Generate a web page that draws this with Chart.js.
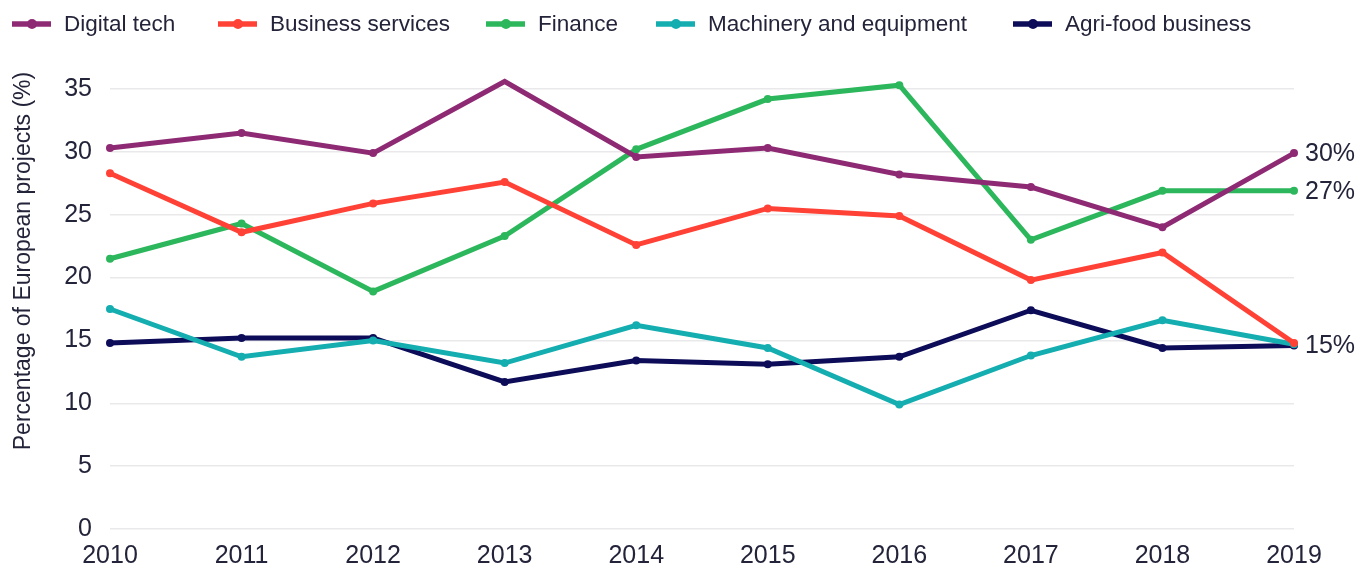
<!DOCTYPE html>
<html><head><meta charset="utf-8">
<script src="https://cdn.jsdelivr.net/npm/chart.js@4"></script>
<style>html,body{margin:0;padding:0;background:#fff;}#wrap{width:1355px;height:575px;}</style>
</head><body><div id="wrap"><canvas id="c" width="1355" height="575"></canvas></div>
<script>
const years = ['2010','2011','2012','2013','2014','2015','2016','2017','2018','2019'];
const digitalTech = [30.3,31.5,29.9,35.6,29.6,30.3,28.2,27.2,24.0,29.9];
const businessServices = [28.3,23.6,25.9,27.6,22.6,25.5,24.9,19.8,22.0,14.8];
const finance = [21.5,24.3,18.9,23.3,30.2,34.2,35.3,23.0,26.9,26.9];
const machinery = [17.5,13.7,15.0,13.2,16.2,14.4,9.9,13.8,16.6,14.7];
const agriFood = [14.8,15.2,15.2,11.7,13.4,13.1,13.7,17.4,14.4,14.6];
const seriesNames = ['Digital tech','Business services','Finance','Machinery and equipment','Agri-food business'];
const endLabels = ['30%','','27%','','15%'];
const yTicks = [0,5,10,15,20,25,30,35];
const yTitle = 'Percentage of European projects (%)';

const colors = ['#8E2A73','#FF4136','#2DB75C','#14ADB0','#0C0C58'];
const textColor = '#23233a';
const FONT = '"Liberation Sans", Arial, sans-serif';
const allData = [digitalTech,businessServices,finance,machinery,agriFood];

const datasets = allData.map((d,i)=>({
  label: seriesNames[i], data: d, borderColor: colors[i], backgroundColor: colors[i],
  borderWidth: 5, pointRadius: 4, pointHoverRadius: 4, pointBorderWidth: 0,
  tension: 0, clip: false, endLabel: endLabels[i]
}));
const legendX = [12, 218, 486, 656, 1013];

const customPlugin = {
  id: 'custom',
  afterDatasetsDraw(chart){
    const ctx = chart.ctx;
    ctx.save();
    // end labels
    ctx.font = '25px ' + FONT;
    ctx.fillStyle = textColor;
    ctx.textBaseline = 'middle';
    ctx.textAlign = 'left';
    chart.data.datasets.forEach((ds,i)=>{
      if(!ds.endLabel) return;
      const meta = chart.getDatasetMeta(i);
      const pt = meta.data[meta.data.length-1];
      ctx.fillText(ds.endLabel, pt.x + 11, pt.y + 1);
    });
    // legend
    ctx.font = '22.5px ' + FONT;
    chart.data.datasets.forEach((ds,i)=>{
      const x = legendX[i], y = 24;
      ctx.strokeStyle = colors[i]; ctx.lineWidth = 5.5;
      ctx.beginPath(); ctx.moveTo(x, y); ctx.lineTo(x+39, y); ctx.stroke();
      ctx.fillStyle = colors[i];
      ctx.beginPath(); ctx.arc(x+20, y, 5, 0, Math.PI*2); ctx.fill();
      ctx.fillStyle = textColor;
      ctx.fillText(ds.label, x+52, y+1);
    });
    // y title
    ctx.font = '23px ' + FONT;
    ctx.translate(24, 261);
    ctx.rotate(-Math.PI/2);
    ctx.textAlign = 'center';
    ctx.fillStyle = textColor;
    ctx.fillText(yTitle, 0, 0);
    ctx.restore();
  }
};

new Chart(document.getElementById('c'), {
  type: 'line',
  data: { labels: years, datasets },
  options: {
    responsive: false, animation: false,
    layout: { padding: { top: 89, right: 61, left: 0, bottom: 0 } },
    plugins: { legend: { display: false }, tooltip: { enabled: false } },
    scales: {
      x: {
        offset: false,
        grid: { display: false, drawTicks: false },
        border: { display: false },
        ticks: { color: textColor, font: { family: FONT, size: 25 }, padding: 12, maxRotation: 0, autoSkip: false },
        afterFit(s){ s.height = 46; }
      },
      y: {
        min: 0, max: 35,
        grid: { color: '#e9e9ec', lineWidth: 1.5, drawTicks: false },
        border: { display: false },
        afterBuildTicks(s){ s.ticks = yTicks.map(v=>({value:v})); },
        ticks: { color: textColor, font: { family: FONT, size: 25 }, padding: 18 },
        afterFit(s){ s.width = 110; }
      }
    }
  },
  plugins: [customPlugin]
});
</script>
</body></html>
